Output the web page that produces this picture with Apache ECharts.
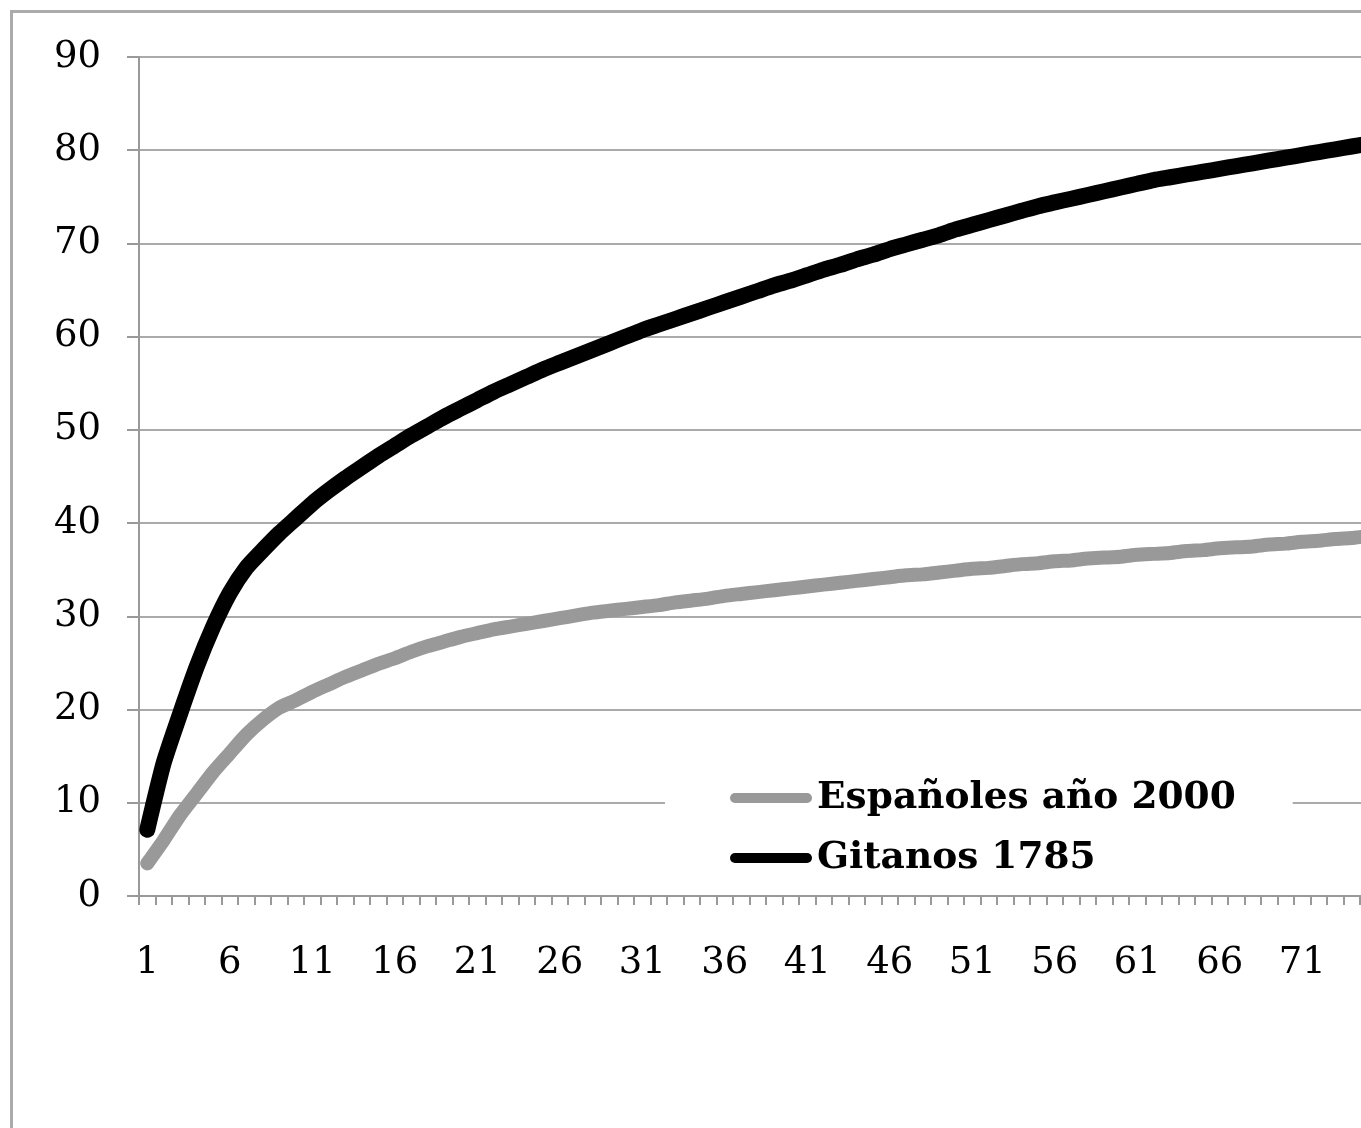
<!DOCTYPE html>
<html>
<head>
<meta charset="utf-8">
<script src="https://cdn.jsdelivr.net/npm/echarts@6/dist/echarts.min.js"></script>
<style>
html,body{margin:0;padding:0;background:#fff;overflow:hidden;width:1361px;height:1128px;}
#chart{width:1420px;height:1128px;}
</style>
</head>
<body>
<div id="chart"></div>
<script>
// categories 1..76 (the chart is cut at the right edge)
const categories = [];
for (let i = 1; i <= 76; i++) categories.push(String(i));

const espanoles2000 = [
  3.5, 6.0, 8.7, 11.0, 13.3, 15.3, 17.3, 18.9, 20.2, 21.0,
  21.9, 22.7, 23.5, 24.2, 24.9, 25.5, 26.2, 26.8, 27.3, 27.8,
  28.2, 28.6, 28.9, 29.2, 29.5, 29.8, 30.1, 30.4, 30.6, 30.8,
  31.0, 31.2, 31.5, 31.7, 31.9, 32.2, 32.4, 32.6, 32.8, 33.0,
  33.2, 33.4, 33.6, 33.8, 34.0, 34.2, 34.4, 34.5, 34.7, 34.9,
  35.1, 35.2, 35.4, 35.6, 35.7, 35.9, 36.0, 36.2, 36.3, 36.4,
  36.6, 36.7, 36.8, 37.0, 37.1, 37.3, 37.4, 37.5, 37.7, 37.8,
  38.0, 38.1, 38.3, 38.4, 38.6, 38.7
];

const gitanos1785 = [
  7.1, 14.3, 19.6, 24.6, 28.9, 32.5, 35.2, 37.1, 38.9, 40.5,
  42.1, 43.5, 44.8, 46.0, 47.2, 48.3, 49.4, 50.4, 51.4, 52.3,
  53.2, 54.1, 54.9, 55.7, 56.5, 57.2, 57.9, 58.6, 59.3, 60.0,
  60.7, 61.3, 61.9, 62.5, 63.1, 63.7, 64.3, 64.9, 65.5, 66.0,
  66.6, 67.2, 67.7, 68.3, 68.8, 69.4, 69.9, 70.4, 70.9, 71.5,
  72.0, 72.5, 73.0, 73.5, 74.0, 74.4, 74.8, 75.2, 75.6, 76.0,
  76.4, 76.8, 77.1, 77.4, 77.7, 78.0, 78.3, 78.6, 78.9, 79.2,
  79.5, 79.8, 80.1, 80.4, 80.7, 81.0
];

const yTicks = { min: 0, max: 90, interval: 10 };
const seriesNames = ['Españoles año 2000', 'Gitanos 1785'];

const chart = echarts.init(document.getElementById('chart'));
const capsule = 'path://M5,0 L77,0 A5,5 0 0 1 77,10 L5,10 A5,5 0 0 1 5,0 Z';
chart.setOption({
  backgroundColor: '#fff',
  animation: false,
  graphic: [{
    type: 'rect',
    left: 9, top: 9,
    shape: { width: 1500, height: 1300 },
    style: { fill: 'none', stroke: '#ababab', lineWidth: 3 },
    z: 0
  }],
  grid: { left: 139, top: 57, right: 27, bottom: 232 },
  legend: {
    orient: 'vertical',
    left: 665, top: 766,
    backgroundColor: '#fff',
    padding: [12, 57, 12, 65],
    itemWidth: 82, itemHeight: 11,
    itemGap: 20,
    textStyle: { fontFamily: 'DejaVu Serif', fontWeight: 'bold', fontSize: 37.5, color: '#000', lineHeight: 40, padding: [0, 0, 0, 0] },
    data: [
      { name: seriesNames[0], icon: capsule, itemStyle: { color: '#999' } },
      { name: seriesNames[1], icon: capsule, itemStyle: { color: '#000' } }
    ]
  },
  xAxis: {
    type: 'category',
    data: categories,
    boundaryGap: true,
    axisLine: { lineStyle: { color: '#999', width: 2 } },
    axisTick: { show: true, interval: 0, length: 9, lineStyle: { color: '#999', width: 2 } },
    axisLabel: { interval: 4, margin: 49, fontFamily: 'DejaVu Serif', fontSize: 37, color: '#000' },
    splitLine: { show: false }
  },
  yAxis: {
    type: 'value',
    min: yTicks.min, max: yTicks.max, interval: yTicks.interval,
    axisLine: { show: true, lineStyle: { color: '#999', width: 2 } },
    axisTick: { show: true, length: 12, lineStyle: { color: '#999', width: 2 } },
    axisLabel: { margin: 38, fontFamily: 'DejaVu Serif', fontSize: 37, color: '#000' },
    splitLine: { show: true, lineStyle: { color: '#aaa', width: 2 } }
  },
  series: [
    {
      name: seriesNames[0], type: 'line', data: espanoles2000,
      showSymbol: false, smooth: 0.2,
      lineStyle: { color: '#999', width: 14, cap: 'round', join: 'round' },
      itemStyle: { color: '#999' }, z: 2
    },
    {
      name: seriesNames[1], type: 'line', data: gitanos1785,
      showSymbol: false, smooth: 0.2,
      lineStyle: { color: '#000', width: 16, cap: 'round', join: 'round' },
      itemStyle: { color: '#000' }, z: 3
    }
  ]
});
</script>
</body>
</html>
